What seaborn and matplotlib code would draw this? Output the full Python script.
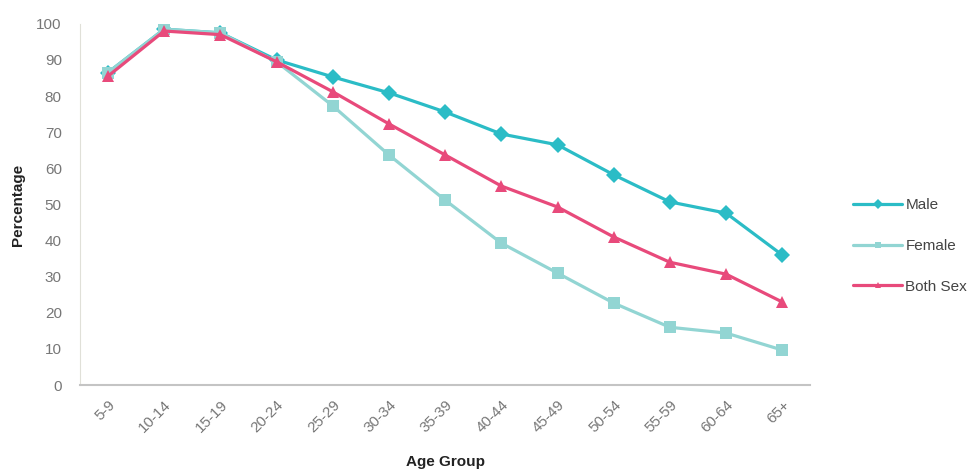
import numpy as np
import pandas as pd
import seaborn as sns
import matplotlib.pyplot as plt

age_groups = ['5-9', '10-14', '15-19', '20-24', '25-29', '30-34', '35-39',
              '40-44', '45-49', '50-54', '55-59', '60-64', '65+']
male = [86.5, 98.5, 97.5, 90.0, 85.3, 80.9, 75.6, 69.5, 66.5, 58.2, 50.7, 47.6, 36.0]
female = [86.5, 98.5, 97.5, 89.5, 77.3, 63.7, 51.2, 39.3, 31.0, 22.7, 16.0, 14.4, 9.7]
both = [85.5, 98.0, 97.0, 89.5, 81.2, 72.3, 63.7, 55.1, 49.3, 41.0, 34.0, 30.7, 23.0]
series = ['Male', 'Female', 'Both Sex']

df = pd.DataFrame({'Age Group': age_groups * 3,
                   'Percentage': male + female + both,
                   'Series': np.repeat(series, len(age_groups))})
df['Age Group'] = pd.Categorical(df['Age Group'], categories=age_groups, ordered=True)
df['x'] = df['Age Group'].cat.codes

sns.set_style('white')
plt.rcParams['font.family'] = ['Liberation Sans', 'DejaVu Sans']

fig = plt.figure(figsize=(9.74, 4.76), dpi=100)
ax = fig.add_axes([0.082, 0.191, 0.75, 0.759])

palette = {'Male': '#2bbcc6', 'Female': '#92d5d3', 'Both Sex': '#e84a7b'}
markers = {'Male': 'D', 'Female': 's', 'Both Sex': '^'}
sns.lineplot(data=df, x='x', y='Percentage', hue='Series', style='Series',
             hue_order=series, style_order=series, palette=palette,
             markers=markers, dashes=False, linewidth=2.3, markersize=8.5,
             markeredgewidth=0, ax=ax)

ax.set_xlim(-0.5, len(age_groups) - 0.5)
ax.set_ylim(0, 100)
ax.set_yticks(range(0, 101, 10))
ax.set_xticks(range(len(age_groups)))
ax.set_xticklabels(age_groups, rotation=45, ha='right', rotation_mode='anchor')
ax.tick_params(axis='both', colors='#777777', labelsize=11, length=0)
ax.tick_params(axis='x', pad=9)
ax.tick_params(axis='y', pad=13)
ax.set_xlabel('Age Group', fontsize=11, fontweight='bold', color='#222222', labelpad=14)
ax.set_ylabel('Percentage', fontsize=11, fontweight='bold', color='#222222', labelpad=8)
for s in ['top', 'right']:
    ax.spines[s].set_visible(False)
ax.spines['left'].set_color('#e0e0d8')
ax.spines['bottom'].set_color('#c4c4c4')
ax.spines['bottom'].set_linewidth(1.5)

handles, labels = ax.get_legend_handles_labels()
for h in handles:
    h.set_markersize(5)
ax.legend(handles, labels, loc='center left', bbox_to_anchor=(0.862, 0.483),
          bbox_transform=fig.transFigure, frameon=False, fontsize=11,
          handlelength=3.2, handletextpad=0.2, labelspacing=1.75,
          labelcolor='#444444')

fig.savefig('out.png', dpi=100)
